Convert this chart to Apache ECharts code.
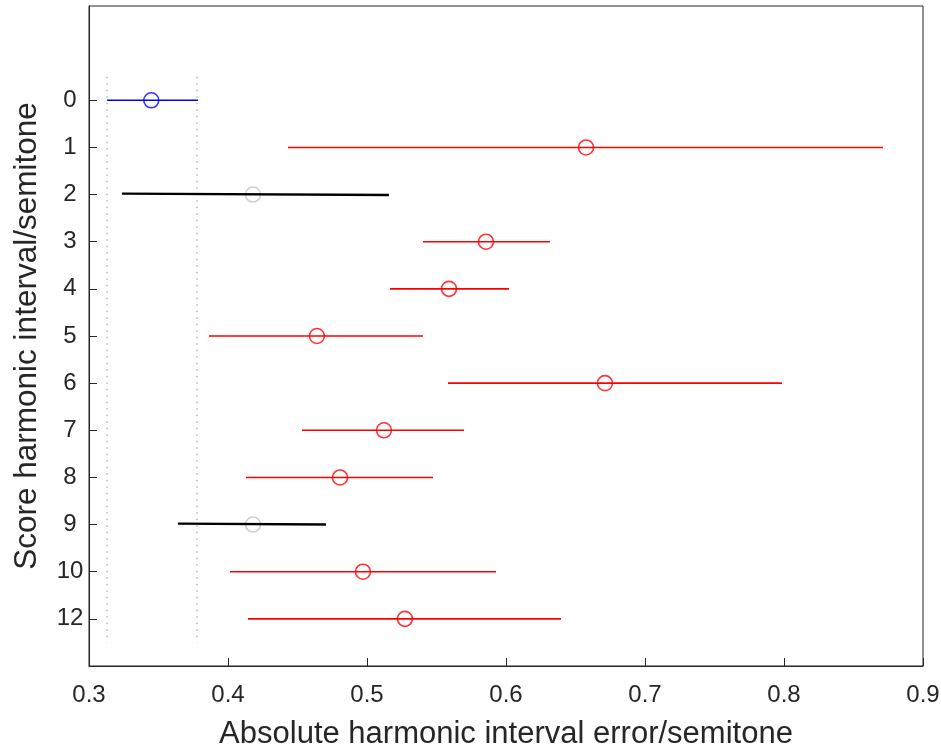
<!DOCTYPE html>
<html>
<head>
<meta charset="utf-8">
<script src="https://cdn.jsdelivr.net/npm/echarts@6/dist/echarts.min.js"></script>
<style>html,body{margin:0;padding:0;background:#fff}#c{width:941px;height:749px}</style>
</head>
<body>
<div id="c"></div>
<script>
// ---- data ----
const rowLabels = ['0','1','2','3','4','5','6','7','8','9','10','12'];
const centers = [0.3448,0.6576,0.4180,0.5856,0.5590,0.4640,0.6712,0.5122,0.4806,0.4180,0.4971,0.5273];
const lowers  = [0.3130,0.4432,0.3237,0.5403,0.5165,0.3863,0.5583,0.4532,0.4129,0.3640,0.4014,0.4144];
const uppers  = [0.3784,0.8712,0.5158,0.6317,0.6022,0.5403,0.7986,0.5698,0.5475,0.4705,0.5928,0.6396];
const rowType = ['ref','sig','ns','sig','sig','sig','sig','sig','sig','ns','sig','sig'];
// slight tilt of the non-significant lines (start / end offset in row units)
const tiltStart = [0,0,-0.02,0,0,0,0,0,0,-0.02,0,0];
const tiltEnd   = [0,0, 0.01,0,0,0,0,0,0, 0.00,0,0];
const refLines = [0.3130, 0.3777];
const xTitle = 'Absolute harmonic interval error/semitone';
const yTitle = 'Score harmonic interval/semitone';

const styles = {
  ref: {line:'#0000ff', lw:1.6, circ:'#0000ff'},
  sig: {line:'#ff0000', lw:1.6, circ:'#ff0000'},
  ns:  {line:'#000000', lw:2.4, circ:'#c4c4c4'}
};
const FONT = 'Liberation Sans, Arial, sans-serif';
const series = [];
refLines.forEach(v => series.push({
  type:'line', data:[[v,-0.5],[v,11.5]], symbol:'none', silent:true, z:1,
  lineStyle:{color:'#b8b8b8', width:1.5, type:[1.5,5]}
}));
rowLabels.forEach((lab,i) => {
  const s = styles[rowType[i]];
  series.push({
    type:'line', symbol:'none', silent:true, z: rowType[i]==='ns'?4:2,
    data:[[lowers[i], i+tiltStart[i]],[uppers[i], i+tiltEnd[i]]],
    lineStyle:{color:s.line, width:s.lw}
  });
  series.push({
    type:'scatter', symbol:'circle', symbolSize:15, z:3,
    data:[[centers[i], i]],
    itemStyle:{color:'rgba(0,0,0,0)', borderColor:s.circ, borderWidth:1.6}
  });
});

const chart = echarts.init(document.getElementById('c'));
chart.setOption({
  animation:false,
  grid:{left:89, right:18, top:6, bottom:83, show:true, borderColor:'#262626', borderWidth:1,
        containLabel:false, outerBoundsMode:'none'},
  xAxis:{
    type:'value', min:0.3, max:0.9, interval:0.1,
    name:xTitle, nameLocation:'middle', nameGap:53,
    nameTextStyle:{fontFamily:FONT, fontSize:31, color:'#262626'},
    axisLine:{onZero:false, lineStyle:{color:'#262626', width:1}},
    axisTick:{inside:true, length:8, lineStyle:{color:'#262626'}},
    axisLabel:{fontFamily:FONT, fontSize:24, color:'#262626', margin:17,
      formatter:v=>v.toFixed(1)},
    splitLine:{show:false}
  },
  yAxis:{
    type:'value', min:-2, max:12, interval:1, inverse:true,
    name:yTitle, nameLocation:'middle', nameGap:46,
    nameTextStyle:{fontFamily:FONT, fontSize:31.5, color:'#262626'},
    axisLine:{show:true, onZero:false, lineStyle:{color:'#262626', width:1}},
    axisTick:{show:true, inside:true, length:8, lineStyle:{color:'#262626'},
      customValues: rowLabels.map((l,i)=>i)},
    axisLabel:{fontFamily:FONT, fontSize:24, color:'#262626', margin:19, align:'center',
      customValues: rowLabels.map((l,i)=>i),
      formatter:v=>rowLabels[Math.round(v)] ?? ''},
    splitLine:{show:false}
  },
  series: series
});
</script>
</body>
</html>
